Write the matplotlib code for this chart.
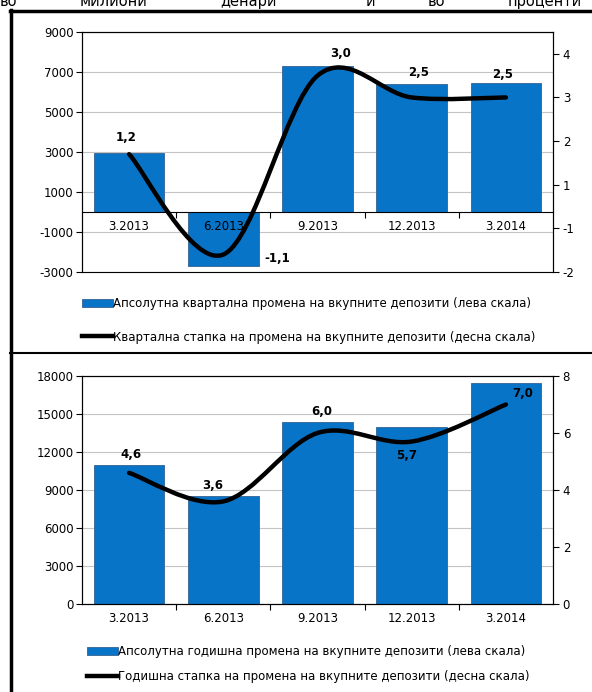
import numpy as np
import matplotlib
matplotlib.use('Agg')
import matplotlib.pyplot as plt
from matplotlib.path import Path
from matplotlib.patches import PathPatch, Patch
from matplotlib.lines import Line2D

plt.rcParams['font.family'] = ['DejaVu Sans']
plt.rcParams['axes.unicode_minus'] = False

# податоци
quarters = ['3.2013', '6.2013', '9.2013', '12.2013', '3.2014']
q_abs = [2950, -2700, 7300, 6400, 6450]          # лева скала
q_rate = [1.2, -1.1, 3.0, 2.5, 2.5]               # десна скала
q_rate_lbl = ['1,2', '-1,1', '3,0', '2,5', '2,5']
y_abs = [11000, 8500, 14400, 14000, 17450]
y_rate = [4.6, 3.6, 6.0, 5.7, 7.0]
y_rate_lbl = ['4,6', '3,6', '6,0', '5,7', '7,0']

q_legend = ['Апсолутна квартална промена на вкупните депозити (лева скала)',
            'Квартална стапка на промена на вкупните депозити (десна скала)']
y_legend = ['Апсолутна годишна промена на вкупните депозити (лева скала)',
            'Годишна стапка на промена на вкупните депозити (десна скала)']
header = ['во', 'милиони', 'денари', 'и', 'во', 'проценти']

BLUE = '#0874C8'
EDGE = '#3F6E9E'
GRID = '#C4C4C4'
FS = 8.5

W, H = 592, 692
fig = plt.figure(figsize=(W / 100, H / 100), dpi=100)


def fx(px):
    return px / W


def fy(py):
    return 1 - py / H


def smooth(ax, xs, ys):
    # Excel-like smoothed line (Catmull-Rom as cubic bezier)
    n = len(xs)
    verts = [(xs[0], ys[0])]
    codes = [Path.MOVETO]
    for i in range(n - 1):
        a = max(i - 1, 0)
        b = min(i + 2, n - 1)
        c1 = (xs[i] + (xs[i + 1] - xs[a]) / 6, ys[i] + (ys[i + 1] - ys[a]) / 6)
        c2 = (xs[i + 1] - (xs[b] - xs[i]) / 6, ys[i + 1] - (ys[b] - ys[i]) / 6)
        verts += [c1, c2, (xs[i + 1], ys[i + 1])]
        codes += [Path.CURVE4] * 3
    pp = PathPatch(Path(verts, codes), facecolor='none', edgecolor='black',
                   lw=3.2, capstyle='round', joinstyle='round', zorder=5)
    ax.add_patch(pp)


def style_axes(ax, ax2, yticks):
    x = np.arange(len(quarters))
    ax.set_xlim(-0.5, len(quarters) - 0.5)
    ax.set_xticks(np.arange(0.5, len(quarters) - 1, 1))
    ax.set_xticklabels([])
    ax.set_xticks(x, minor=True)
    ax.set_xticklabels(quarters, minor=True, fontsize=FS)
    ax.tick_params(axis='x', which='major', direction='out', length=4, width=0.8)
    ax.tick_params(axis='x', which='minor', length=0, pad=6)
    ax.tick_params(axis='y', direction='out', length=4, width=0.8, labelsize=FS, pad=2)
    ax2.tick_params(axis='y', direction='out', length=4, width=0.8, labelsize=FS, pad=3)
    ax.set_axisbelow(False)  # tick labels over the bars
    for t in yticks:
        ax.axhline(t, color=GRID, lw=0.8, zorder=0.5)
    for sp in list(ax.spines.values()) + list(ax2.spines.values()):
        sp.set_linewidth(0.8)
        sp.set_color('black')


# ---- квартални промени ----
ax1 = fig.add_axes([fx(82), fy(272), fx(553 - 82), (272 - 32) / H])
x = np.arange(len(quarters))
ax1.bar(x, q_abs, width=0.75, color=BLUE, edgecolor=EDGE, linewidth=0.7, zorder=2)
ax1.set_ylim(-3000, 9000)
q_ticks = np.arange(-3000, 9001, 2000)
ax1.set_yticks(q_ticks)
ax1.spines['bottom'].set_position(('data', 0))
ax1b = ax1.twinx()
ax1b.set_ylim(-1.5, 4)
ax1b.set_yticks([-1.5, -0.5, 0.5, 1.5, 2.5, 3.5])
ax1b.set_yticklabels(['-2', '-1', '1', '2', '3', '4'])
style_axes(ax1, ax1b, q_ticks)
smooth(ax1b, list(x), q_rate)
q_off = [(-3, 17), (54, -4), (23, 22), (7, 25), (-3, 23)]
for i in range(len(x)):
    ax1b.annotate(q_rate_lbl[i], (x[i], q_rate[i]), xytext=q_off[i], textcoords='offset pixels',
                  ha='center', va='center', fontsize=FS, fontweight='bold', zorder=6)

# ---- годишни промени ----
ax2 = fig.add_axes([fx(82), fy(604), fx(553 - 82), (604 - 376) / H])
ax2.bar(x, y_abs, width=0.75, color=BLUE, edgecolor=EDGE, linewidth=0.7, zorder=2)
ax2.set_ylim(0, 18000)
y_ticks = np.arange(0, 18001, 3000)
ax2.set_yticks(y_ticks)
ax2b = ax2.twinx()
ax2b.set_ylim(0, 8)
ax2b.set_yticks([0, 2, 4, 6, 8])
style_axes(ax2, ax2b, y_ticks)
smooth(ax2b, list(x), y_rate)
y_off = [(2, 18), (-11, 16), (4, 21), (-5, -14), (17, 11)]
for i in range(len(x)):
    ax2b.annotate(y_rate_lbl[i], (x[i], y_rate[i]), xytext=y_off[i], textcoords='offset pixels',
                  ha='center', va='center', fontsize=FS, fontweight='bold', zorder=6)

# ---- легенди ----
def legend(labels, top_px, left_px, spacing):
    h = [Patch(facecolor=BLUE, edgecolor=EDGE, linewidth=0.7),
         Line2D([], [], color='black', lw=3.2)]
    fig.legend(h, labels, loc='upper left', bbox_to_anchor=(fx(left_px), fy(top_px)),
               frameon=False, fontsize=FS, handlelength=2.6, handleheight=0.75,
               handletextpad=0.05, labelspacing=spacing, borderpad=0, borderaxespad=0)


legend(q_legend, 297, 82, 1.75)
legend(y_legend, 645, 87, 1.05)

# ---- рамка и наслов (отсечен) ----
fig.add_artist(Line2D([fx(10), 1], [fy(11), fy(11)], color='black', lw=2.5))
fig.add_artist(Line2D([fx(10.5), fx(10.5)], [fy(10), 0], color='black', lw=2.5))
fig.add_artist(Line2D([fx(10), 1], [fy(353), fy(353)], color='black', lw=1.5))
hx = [0, 80, 220, 366, 428, 508]
for t, px in zip(header, hx):
    fig.text(fx(px), fy(6), t, fontsize=10.5, ha='left', va='baseline')

fig.savefig('out.png', dpi=100)
